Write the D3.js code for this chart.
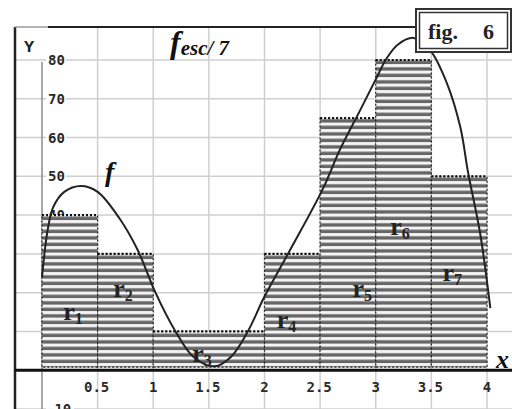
<!DOCTYPE html>
<html>
<head>
<meta charset="utf-8">
<script src="https://cdn.jsdelivr.net/npm/d3@7"></script>
<style>
  body { margin: 0; background: #fff; }
  svg { display: block; }
</style>
</head>
<body>
<div id="chart"></div>
<script>
// rectangles r1..r7 (left edge, right edge, height)
var barStart = [0, 0.5, 1, 2, 2.5, 3, 3.5];
var barEnd   = [0.5, 1, 2, 2.5, 3, 3.5, 4];
var barValue = [40, 30, 10, 30, 65, 80, 50];
var barNames = ["1", "2", "3", "4", "5", "6", "7"];
// label anchor for each r (x in data units, y in data units)
var labelX = [0.19, 0.64, 1.35, 2.11, 2.79, 3.13, 3.6];
var labelY = [13, 19, 2, 11, 19, 35, 23];

// the curve f
var curveX = [0, 0.05, 0.1, 0.2, 0.35, 0.5, 0.7, 0.86, 1.02, 1.2, 1.36, 1.55, 1.7, 1.85, 2.0, 2.23, 2.52, 2.68, 2.85, 3.0, 3.1, 3.2, 3.34, 3.49, 3.64, 3.76, 3.83, 3.94, 4.03];
var curveY = [24, 36, 42, 46, 47.5, 46, 39, 31, 20, 10, 3.5, 1, 3.5, 10, 19, 31, 46.5, 57, 66.5, 75, 80.5, 84, 85.7, 82.5, 74, 62.7, 51, 35, 16];

var xTicks = [0.5, 1, 1.5, 2, 2.5, 3, 3.5, 4];
var xTickLabels = ["0.5", "1", "1.5", "2", "2.5", "3", "3.5", "4"];
var yTicks = [-10, 10, 20, 30, 40, 50, 60, 70, 80];
var yGrid = [-10, 0, 10, 20, 30, 40, 50, 60, 70, 80];

var width = 512, height = 409;
var frameLeft = 15, frameTop = 27;

var x = d3.scaleLinear().domain([0, 4]).range([42, 487]);
var y = d3.scaleLinear().domain([-10, 80]).range([409, 60]);

var svg = d3.select("#chart").append("svg")
  .attr("width", width)
  .attr("height", height);

// stripe fill for the rectangles
var pat = svg.append("defs").append("pattern")
  .attr("id", "stripes")
  .attr("patternUnits", "userSpaceOnUse")
  .attr("width", 8)
  .attr("height", 6.5);
pat.append("rect").attr("width", 8).attr("height", 6.5).attr("fill", "#f4f4f4");
pat.append("rect").attr("y", 2.2).attr("width", 8).attr("height", 3.4).attr("fill", "#666");

// grid
var grid = svg.append("g").attr("id", "grid");
grid.selectAll("line.v")
  .data(xTicks)
  .enter().append("line")
  .attr("class", "v")
  .attr("x1", d => x(d)).attr("x2", d => x(d))
  .attr("y1", frameTop).attr("y2", height)
  .attr("stroke", "#cfcfcf").attr("stroke-width", 1.5);
grid.selectAll("line.h")
  .data(yGrid)
  .enter().append("line")
  .attr("class", "h")
  .attr("x1", frameLeft).attr("x2", width)
  .attr("y1", d => y(d)).attr("y2", d => y(d))
  .attr("stroke", "#cfcfcf").attr("stroke-width", 1.5);

// y axis (gray line at x = 0)
svg.append("line")
  .attr("x1", x(0)).attr("x2", x(0))
  .attr("y1", y(80) + 2).attr("y2", height)
  .attr("stroke", "#8a8a8a").attr("stroke-width", 1.5);

// y tick labels with white backing
var yl = svg.append("g").attr("id", "ylabels")
  .attr("font-family", "DejaVu Sans Mono")
  .attr("font-weight", "bold")
  .attr("font-size", 14)
  .attr("fill", "#2a2a2a");
yl.selectAll("rect")
  .data(yTicks)
  .enter().append("rect")
  .attr("x", x(0) + 4)
  .attr("y", d => y(d) - 6)
  .attr("width", d => d < 0 ? 28 : 20)
  .attr("height", 12)
  .attr("fill", "#fff");
yl.selectAll("text")
  .data(yTicks)
  .enter().append("text")
  .attr("x", d => x(0) + (d < 0 ? 4 : 6))
  .attr("y", d => y(d) + 5)
  .text(d => d < 0 ? "\u2212" + Math.abs(d) : d);

// rectangles
var bars = svg.append("g").attr("id", "bars");
var idx = d3.range(barValue.length);
bars.selectAll("rect")
  .data(idx)
  .enter().append("rect")
  .attr("x", i => x(barStart[i]))
  .attr("y", i => y(barValue[i]))
  .attr("width", i => x(barEnd[i]) - x(barStart[i]))
  .attr("height", i => y(0) - 3 - y(barValue[i]))
  .attr("fill", "url(#stripes)")
  .attr("stroke", "#222")
  .attr("stroke-width", 1.2)
  .attr("stroke-dasharray", "2,2");
// heavier dotted tops
bars.selectAll("line")
  .data(idx)
  .enter().append("line")
  .attr("x1", i => x(barStart[i]))
  .attr("x2", i => x(barEnd[i]))
  .attr("y1", i => y(barValue[i]))
  .attr("y2", i => y(barValue[i]))
  .attr("stroke", "#111")
  .attr("stroke-width", 2.2)
  .attr("stroke-dasharray", "2,2");

// x tick labels
svg.append("g").attr("id", "xlabels")
  .attr("font-family", "DejaVu Sans Mono")
  .attr("font-weight", "bold")
  .attr("font-size", 14)
  .attr("fill", "#2a2a2a")
  .attr("text-anchor", "middle")
  .selectAll("text")
  .data(xTicks)
  .enter().append("text")
  .attr("x", (d, i) => x(d) - (xTickLabels[i].length > 1 ? 1 : 0))
  .attr("y", 392)
  .text((d, i) => xTickLabels[i]);

// curve f
var pts = curveX.map((d, i) => [d, curveY[i]]);
svg.append("path")
  .datum(pts)
  .attr("d", d3.line().x(d => x(d[0])).y(d => y(d[1])).curve(d3.curveCatmullRom))
  .attr("fill", "none")
  .attr("stroke", "#222")
  .attr("stroke-width", 2);

// frame: left border, top border, x axis
svg.append("line")
  .attr("x1", frameLeft).attr("x2", frameLeft)
  .attr("y1", frameTop).attr("y2", height)
  .attr("stroke", "#222").attr("stroke-width", 2.5);
svg.append("line")
  .attr("x1", frameLeft).attr("x2", 48)
  .attr("y1", frameTop).attr("y2", frameTop)
  .attr("stroke", "#999").attr("stroke-width", 1.5);
svg.append("line")
  .attr("x1", 48).attr("x2", 416)
  .attr("y1", frameTop).attr("y2", frameTop)
  .attr("stroke", "#222").attr("stroke-width", 2);
svg.append("line")
  .attr("x1", frameLeft).attr("x2", width)
  .attr("y1", y(0)).attr("y2", y(0))
  .attr("stroke", "#111").attr("stroke-width", 3);

// r labels
var rl = svg.append("g").attr("id", "rlabels")
  .attr("font-family", "Liberation Serif")
  .attr("font-weight", "bold")
  .attr("fill", "#222");
idx.forEach(i => {
  var t = rl.append("text")
    .attr("x", x(labelX[i]))
    .attr("y", y(labelY[i]))
    .attr("font-size", 26)
    .text("r");
  t.append("tspan")
    .attr("font-size", 16)
    .attr("dy", 4)
    .text(barNames[i]);
});

// axis names
svg.append("text")
  .attr("x", 24).attr("y", 52)
  .attr("font-family", "Liberation Mono")
  .attr("font-weight", "bold")
  .attr("font-size", 17)
  .attr("fill", "#222")
  .text("Y");
svg.append("text")
  .attr("x", 496).attr("y", 368)
  .attr("font-family", "Liberation Serif")
  .attr("font-weight", "bold")
  .attr("font-style", "italic")
  .attr("font-size", 26)
  .attr("fill", "#111")
  .text("x");

// f label on curve
svg.append("text")
  .attr("x", 105).attr("y", 181)
  .attr("font-family", "Liberation Serif")
  .attr("font-weight", "bold")
  .attr("font-style", "italic")
  .attr("font-size", 28)
  .attr("fill", "#111")
  .text("f");

// title
var title = svg.append("text")
  .attr("x", 170).attr("y", 53)
  .attr("font-family", "Liberation Serif")
  .attr("font-weight", "bold")
  .attr("font-style", "italic")
  .attr("fill", "#111")
  .attr("font-size", 32)
  .text("f");
title.append("tspan")
  .attr("font-size", 21)
  .attr("dy", 2)
  .text("esc/ 7");

// fig box
svg.append("rect")
  .attr("x", 416).attr("y", 9).attr("width", 95).attr("height", 43)
  .attr("fill", "#fff").attr("stroke", "#333").attr("stroke-width", 2);
svg.append("rect")
  .attr("x", 419.5).attr("y", 12.5).attr("width", 88).attr("height", 36)
  .attr("fill", "none").attr("stroke", "#333").attr("stroke-width", 1.5);
var fig = svg.append("g")
  .attr("font-family", "Liberation Serif")
  .attr("font-weight", "bold")
  .attr("font-size", 22)
  .attr("fill", "#222");
fig.append("text").attr("x", 428).attr("y", 39).text("fig.");
fig.append("text").attr("x", 483).attr("y", 39).text("6");
</script>
</body>
</html>
